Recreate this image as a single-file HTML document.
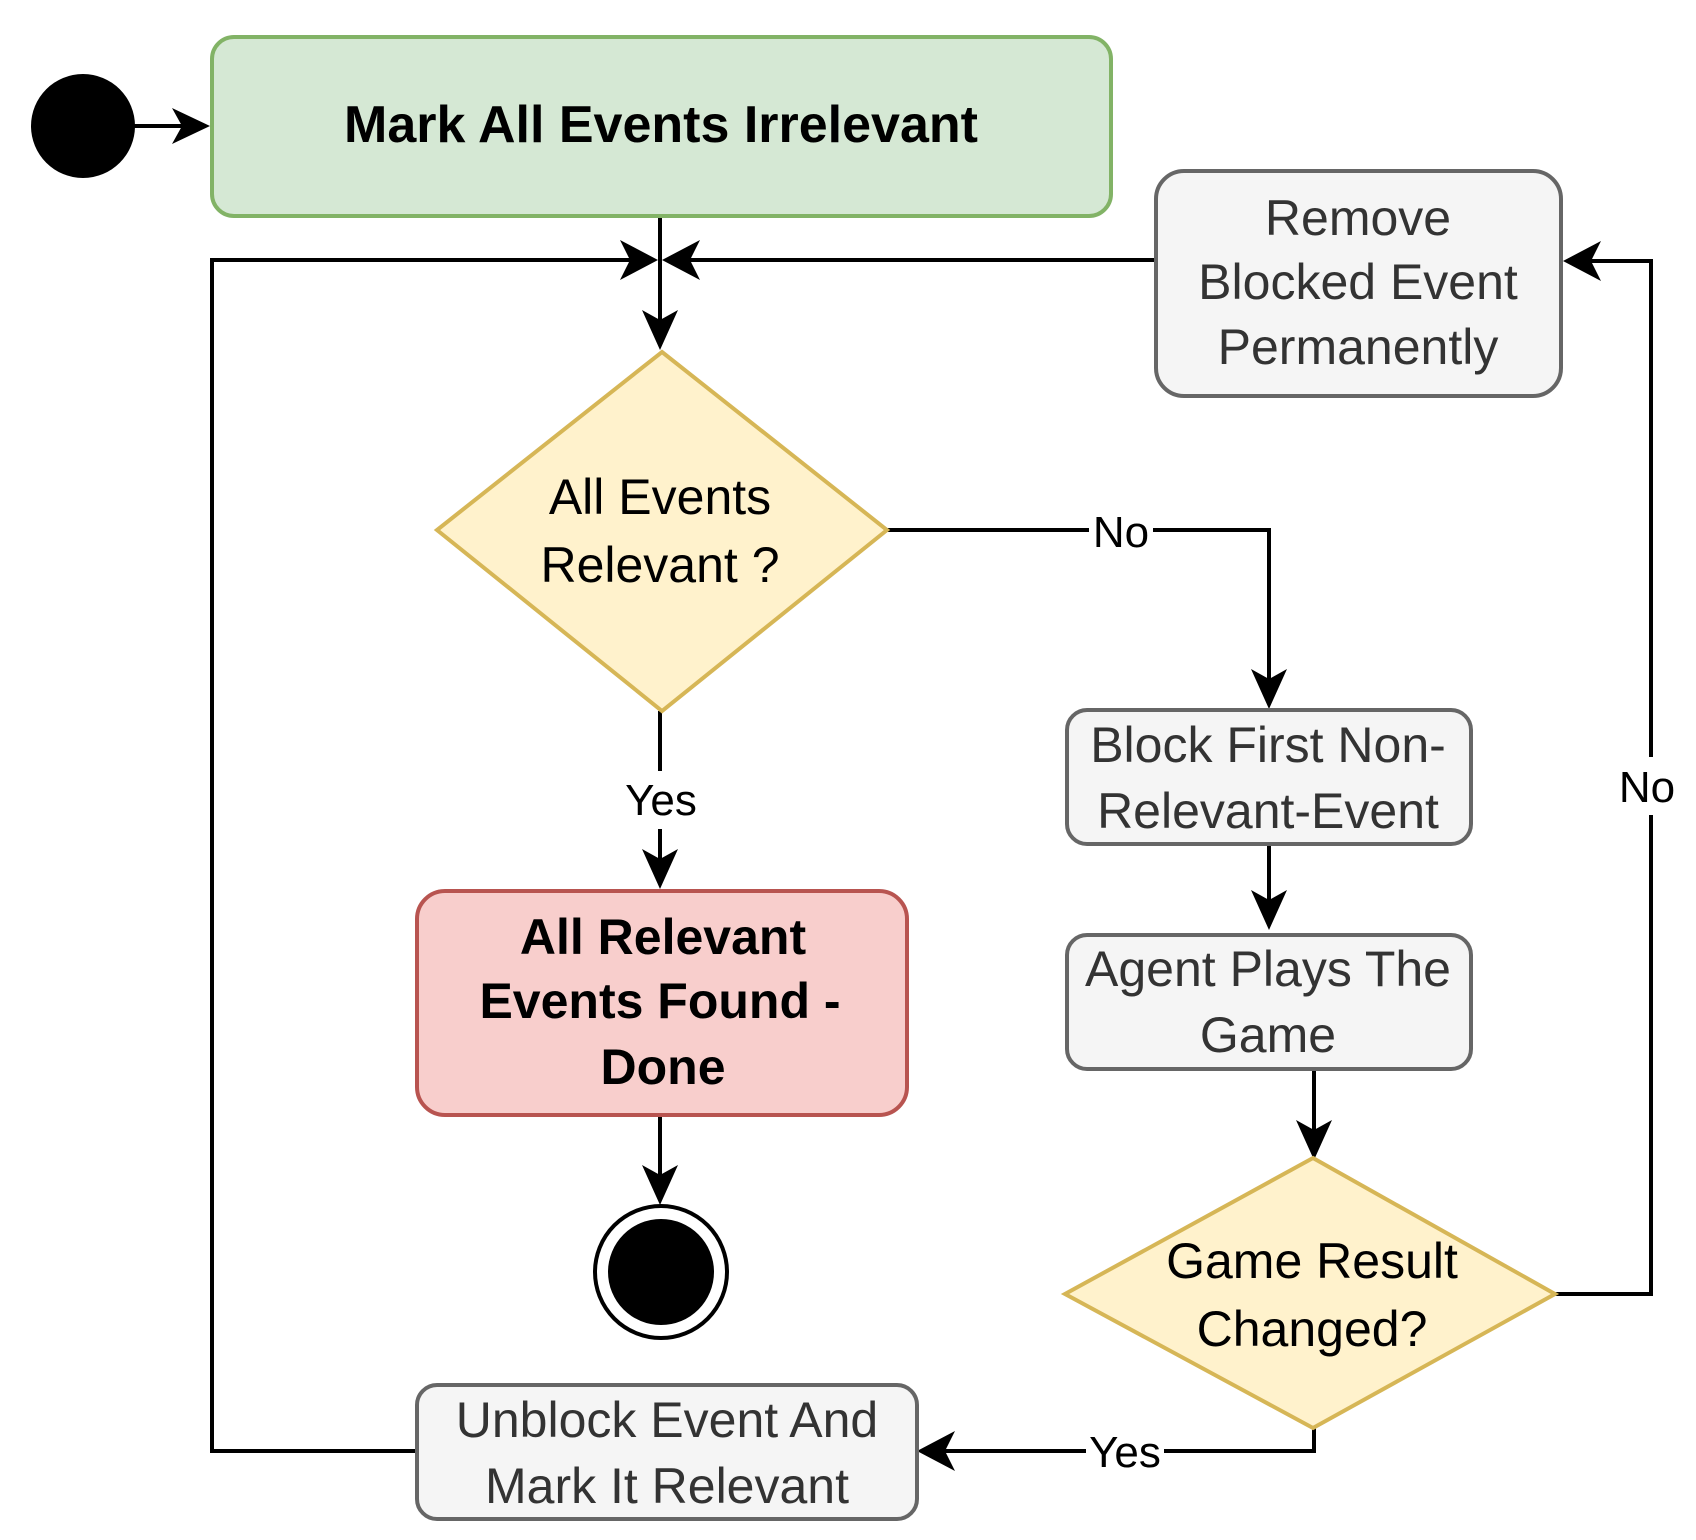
<!DOCTYPE html>
<html><head><meta charset="utf-8"><style>
html,body{margin:0;padding:0;background:#fff;}
svg{display:block;font-family:"Liberation Sans",Arial,sans-serif;}
svg text{font-family:"Liberation Sans",Arial,sans-serif;}
</style></head><body>
<svg width="1696" height="1540" viewBox="0 0 1696 1540" xmlns="http://www.w3.org/2000/svg" font-family="Liberation Sans, Arial, sans-serif">
<g stroke="#000" stroke-width="4" fill="none">
<line x1="130" y1="126" x2="200" y2="126"/>
<line x1="660" y1="216" x2="660" y2="340"/>
<polyline points="416,1451 212,1451 212,260 640,260"/>
<line x1="1156" y1="260" x2="680" y2="260"/>
<polyline points="887,530 1269,530 1269,700"/>
<line x1="660" y1="711" x2="660" y2="880"/>
<line x1="660" y1="1115" x2="660" y2="1195"/>
<line x1="1269" y1="845" x2="1269" y2="920"/>
<line x1="1314" y1="1070" x2="1314" y2="1150"/>
<polyline points="1555,1294 1651,1294 1651,261 1575,261"/>
<polyline points="1314,1426 1314,1451 930,1451"/>
</g>
<g fill="#000">
<path d="M210,126 L172,108 L182,126 L172,144 Z"/>
<path d="M660,350 L642,310 L660,320 L678,310 Z"/>
<path d="M658,260 L620,240 L630,260 L620,280 Z"/>
<path d="M662,260 L700,240 L690,260 L700,280 Z"/>
<path d="M1269,709 L1251,669 L1269,679 L1287,669 Z"/>
<path d="M660,889 L642,849 L660,859 L678,849 Z"/>
<path d="M660,1205 L642,1165 L660,1175 L678,1165 Z"/>
<path d="M1269,930 L1251,890 L1269,900 L1287,890 Z"/>
<path d="M1314,1160 L1296,1120 L1314,1130 L1332,1120 Z"/>
<path d="M1563,261 L1601,241 L1591,261 L1601,281 Z"/>
<path d="M917,1451 L955,1431 L945,1451 L955,1471 Z"/>
</g>
<circle cx="83" cy="126" r="52" fill="#000"/>
<rect x="212" y="37" width="899" height="179" rx="22" fill="#d5e8d4" stroke="#82b366" stroke-width="4"/>
<text x="661" y="142" font-family="Liberation Sans, Arial, sans-serif" font-size="52" font-weight="bold" text-anchor="middle" fill="#000">Mark All Events Irrelevant</text>
<rect x="1156" y="171" width="405" height="225" rx="28" fill="#f5f5f5" stroke="#666" stroke-width="4"/>
<g font-family="Liberation Sans, Arial, sans-serif" font-size="50" fill="#333" text-anchor="middle">
<text x="1358" y="235">Remove</text>
<text x="1358" y="299">Blocked Event</text>
<text x="1358" y="364">Permanently</text>
</g>
<polygon points="662,352 887,530 662,711 437,530" fill="#fff2cc" stroke="#d6b656" stroke-width="4"/>
<g font-family="Liberation Sans, Arial, sans-serif" font-size="50" fill="#000" text-anchor="middle">
<text x="660" y="514">All Events</text>
<text x="660" y="582">Relevant ?</text>
</g>
<rect x="1089" y="502" width="64" height="58" fill="#fff"/>
<text x="1121" y="547" font-family="Liberation Sans, Arial, sans-serif" font-size="44" text-anchor="middle">No</text>
<rect x="622" y="771" width="78" height="58" fill="#fff"/>
<text x="661" y="815" font-family="Liberation Sans, Arial, sans-serif" font-size="44" text-anchor="middle">Yes</text>
<rect x="417" y="891" width="490" height="224" rx="28" fill="#f8cecc" stroke="#b85450" stroke-width="4"/>
<g font-family="Liberation Sans, Arial, sans-serif" font-size="50" font-weight="bold" fill="#000" text-anchor="middle">
<text x="663" y="954">All Relevant</text>
<text x="660" y="1018">Events Found -</text>
<text x="663" y="1084">Done</text>
</g>
<circle cx="661" cy="1272" r="66" fill="#fff" stroke="#000" stroke-width="4"/>
<circle cx="661" cy="1272" r="53" fill="#000"/>
<rect x="1067" y="710" width="404" height="134" rx="20" fill="#f5f5f5" stroke="#666" stroke-width="4"/>
<g font-family="Liberation Sans, Arial, sans-serif" font-size="50" fill="#333" text-anchor="middle">
<text x="1268" y="762">Block First Non-</text>
<text x="1268" y="828">Relevant-Event</text>
</g>
<rect x="1067" y="935" width="404" height="134" rx="20" fill="#f5f5f5" stroke="#666" stroke-width="4"/>
<g font-family="Liberation Sans, Arial, sans-serif" font-size="50" fill="#333" text-anchor="middle">
<text x="1268" y="986">Agent Plays The</text>
<text x="1268" y="1052">Game</text>
</g>
<polygon points="1313,1158 1555,1294 1313,1428 1065,1294" fill="#fff2cc" stroke="#d6b656" stroke-width="4"/>
<g font-family="Liberation Sans, Arial, sans-serif" font-size="50" fill="#000" text-anchor="middle">
<text x="1312" y="1278">Game Result</text>
<text x="1312" y="1346">Changed?</text>
</g>
<rect x="1614" y="757" width="66" height="58" fill="#fff"/>
<text x="1647" y="802" font-family="Liberation Sans, Arial, sans-serif" font-size="44" text-anchor="middle">No</text>
<rect x="1086" y="1421" width="78" height="60" fill="#fff"/>
<text x="1125" y="1467" font-family="Liberation Sans, Arial, sans-serif" font-size="44" text-anchor="middle">Yes</text>
<rect x="417" y="1385" width="500" height="134" rx="20" fill="#f5f5f5" stroke="#666" stroke-width="4"/>
<g font-family="Liberation Sans, Arial, sans-serif" font-size="50" fill="#333" text-anchor="middle">
<text x="667" y="1437">Unblock Event And</text>
<text x="667" y="1503">Mark It Relevant</text>
</g>
</svg>
</body></html>
